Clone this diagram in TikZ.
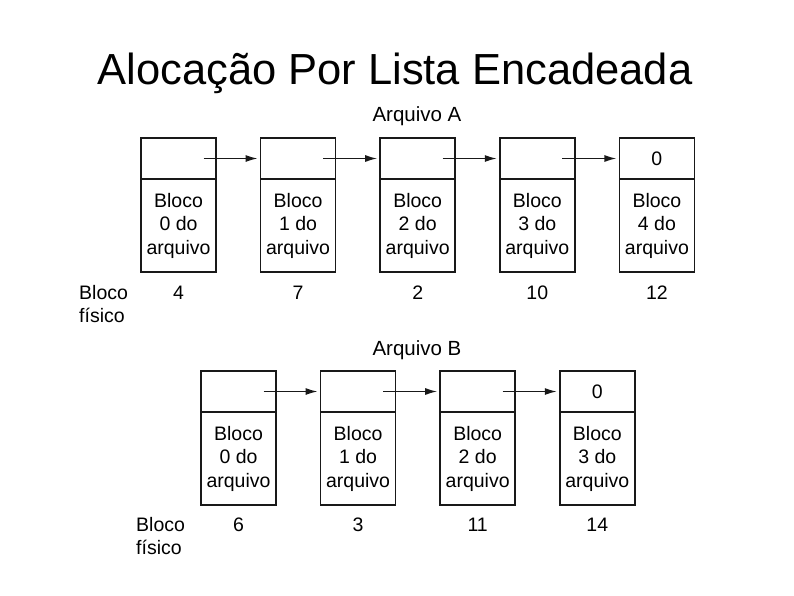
\documentclass[tikz,border=0pt]{standalone}
\usepackage{fontspec}
\setmainfont{Liberation Sans}
\usetikzlibrary{arrows.meta}
\begin{document}
\begin{tikzpicture}[x=1pt,y=-1pt,
  cell/.style={draw=black!90,line width=1.6pt,minimum width=75pt,inner sep=0pt,outer sep=0pt,anchor=north west,font=\fontsize{19.5}{23.5}\selectfont,align=center},
  topcell/.style={cell,minimum height=41pt},
  botcell/.style={cell,minimum height=93pt},
  lbl/.style={font=\fontsize{19.5}{23.5}\selectfont,inner sep=0pt},
  link/.style={line width=1.4pt,black!90,-{Latex[length=12pt,width=7pt]},shorten >=3pt}
]
\useasboundingbox (0,0) rectangle (794,595);
\node[font=\fontsize{43.5}{48}\selectfont,inner sep=0pt] (title) at (395,73) {Alocação Por Lista Encadeada};

% File A
\node[lbl,font=\fontsize{20.5}{24}\selectfont] (fa) at (417,116) {Arquivo A};
\foreach \i/\p/\z in {0/4/,1/7/,2/2/,3/10/,4/12/0}{
  \node[topcell] (a\i t) at ({141+119.6*\i},138) {\z};
  \node[botcell] (a\i b) at ({141+119.6*\i},179) {Bloco\\\i\ do\\arquivo};
  \node[lbl] (a\i p) at ({178.5+119.6*\i},293) {\p};
}
\node[lbl,align=left,anchor=north west,font=\fontsize{19.5}{23.5}\selectfont] (fisa) at (79,285) {Bloco\\físico};
\foreach \i/\j in {0/1,1/2,2/3,3/4}{
  \draw[link] ([xshift=25pt]a\i t.center) -- (a\j t.west);
}

% File B
\node[lbl,font=\fontsize{20.5}{24}\selectfont] (fb) at (417,350) {Arquivo B};
\foreach \i/\p/\z in {0/6/,1/3/,2/11/,3/14/0}{
  \node[topcell] (b\i t) at ({201+119.6*\i},371) {\z};
  \node[botcell] (b\i b) at ({201+119.6*\i},412) {Bloco\\\i\ do\\arquivo};
  \node[lbl] (b\i p) at ({238.5+119.6*\i},525) {\p};
}
\node[lbl,align=left,anchor=north west,font=\fontsize{19.5}{23.5}\selectfont] (fisb) at (136,517) {Bloco\\físico};
\foreach \i/\j in {0/1,1/2,2/3}{
  \draw[link] ([xshift=25pt]b\i t.center) -- (b\j t.west);
}
\end{tikzpicture}
\end{document}
